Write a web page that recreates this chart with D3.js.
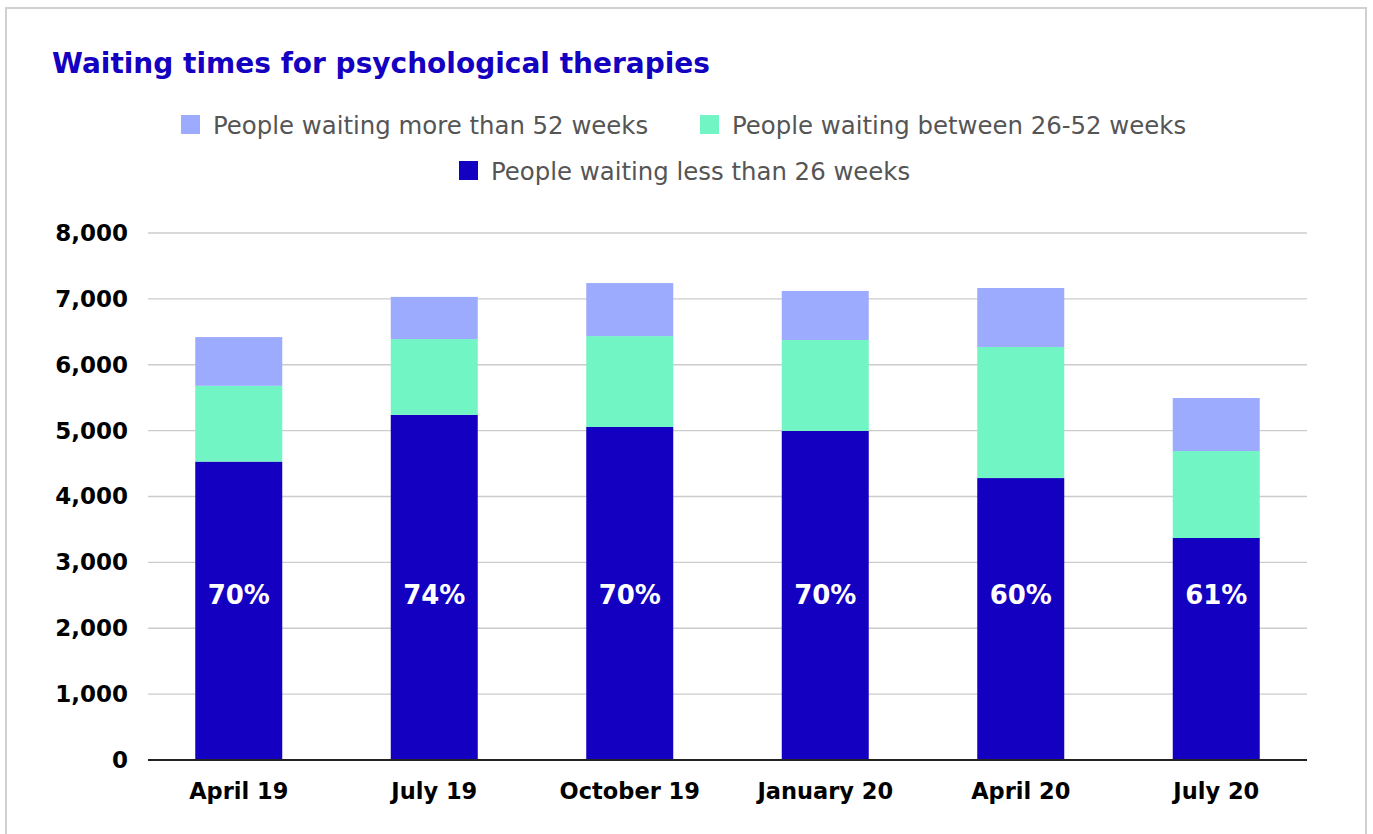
<!DOCTYPE html>
<html>
<head>
<meta charset="utf-8">
<script src="https://cdn.jsdelivr.net/npm/d3@7"></script>
<style>
  body { margin: 0; background: #fff; }
  svg { display: block; font-family: "DejaVu Sans", sans-serif; }
</style>
</head>
<body>
<div id="chart"></div>
<script>
// data
var periods = ["April 19", "July 19", "October 19", "January 20", "April 20", "July 20"];
var under26 = [4530, 5240, 5055, 4995, 4280, 3370];
var between26_52 = [1150, 1150, 1380, 1380, 1990, 1320];
var over52 = [740, 640, 805, 745, 895, 805];
var shareLabels = ["70%", "74%", "70%", "70%", "60%", "61%"];
var yTicks = [0, 1000, 2000, 3000, 4000, 5000, 6000, 7000, 8000];

var seriesNames = ["People waiting less than 26 weeks", "People waiting between 26-52 weeks", "People waiting more than 52 weeks"];
var seriesColors = ["#1400c0", "#72f5c5", "#9dabff"];

var W = 1373, H = 834;
var font = "'DejaVu Sans', sans-serif";
var svg = d3.select("#chart").append("svg")
    .attr("width", W)
    .attr("height", H);

// outer frame
svg.append("rect")
    .attr("x", 6).attr("y", 8)
    .attr("width", 1360).attr("height", 840)
    .attr("fill", "none")
    .attr("stroke", "#d0d0d0")
    .attr("stroke-width", 2);

// title
svg.append("text")
    .attr("x", 52).attr("y", 73)
    .attr("fill", "#1400c0")
    .attr("font-size", 28)
    .attr("font-weight", 700)
    .text("Waiting times for psychological therapies");

// legend
var legendItems = [
  {name: seriesNames[2], color: seriesColors[2], x: 181, y: 125},
  {name: seriesNames[1], color: seriesColors[1], x: 700, y: 125},
  {name: seriesNames[0], color: seriesColors[0], x: 459, y: 171}
];
var lg = svg.append("g").selectAll("g")
  .data(legendItems).enter().append("g")
  .attr("transform", function(d) { return "translate(" + d.x + "," + d.y + ")"; });
lg.append("rect")
  .attr("x", 0).attr("y", -10)
  .attr("width", 19).attr("height", 19)
  .attr("fill", function(d) { return d.color; });
lg.append("text")
  .attr("x", 32).attr("y", 0)
  .attr("dy", "0.35em")
  .attr("fill", "#555")
  .attr("font-size", 24.4)
  .text(function(d) { return d.name; });

// scales
var x = d3.scaleBand()
  .domain(periods)
  .range([141, 1314])
  .paddingInner(0.555)
  .paddingOuter(0.2775);

var y = d3.scaleLinear()
  .domain([0, 8000])
  .range([760, 233]);

var gridLeft = 148, gridRight = 1307;

// gridlines
svg.append("g").selectAll("line")
  .data(yTicks.filter(function(t) { return t > 0; }))
  .enter().append("line")
  .attr("x1", gridLeft).attr("x2", gridRight)
  .attr("y1", function(d) { return y(d); })
  .attr("y2", function(d) { return y(d); })
  .attr("stroke", "#cccccc")
  .attr("stroke-width", 1.3);

// y axis labels
var yAxis = svg.append("g")
  .attr("transform", "translate(" + 128 + ",0)")
  .call(d3.axisLeft(y).tickValues(yTicks).tickSize(0).tickPadding(0).tickFormat(d3.format(",")));
yAxis.select(".domain").remove();
yAxis.selectAll("text")
  .attr("font-family", font)
  .attr("font-size", 23)
  .attr("font-weight", 700)
  .attr("fill", "#000");

// stacked bars
var rows = periods.map(function(p, i) {
  return {period: p, under: under26[i], mid: between26_52[i], over: over52[i]};
});
var stack = d3.stack().keys(["under", "mid", "over"]);
var layers = stack(rows);

svg.append("g").selectAll("g")
  .data(layers).enter().append("g")
  .attr("fill", function(d, i) { return seriesColors[i]; })
  .selectAll("rect")
  .data(function(d) { return d; })
  .enter().append("rect")
  .attr("x", function(d) { return x(d.data.period); })
  .attr("y", function(d) { return y(d[1]); })
  .attr("width", x.bandwidth())
  .attr("height", function(d) { return y(d[0]) - y(d[1]); });

// share labels inside the dark bars
svg.append("g").selectAll("text")
  .data(periods).enter().append("text")
  .attr("x", function(d) { return x(d) + x.bandwidth() / 2; })
  .attr("y", y(2500))
  .attr("dy", "0.35em")
  .attr("text-anchor", "middle")
  .attr("fill", "#fff")
  .attr("font-size", 26)
  .attr("font-weight", 700)
  .text(function(d, i) { return shareLabels[i]; });

// x axis
var xAxis = svg.append("g")
  .attr("transform", "translate(0,760)")
  .call(d3.axisBottom(x).tickSize(0).tickPadding(23));
xAxis.select(".domain").remove();
svg.append("line")
  .attr("x1", gridLeft).attr("x2", gridRight)
  .attr("y1", 760).attr("y2", 760)
  .attr("stroke", "#222")
  .attr("stroke-width", 2);
xAxis.selectAll("text")
  .attr("font-family", font)
  .attr("font-size", 22.5)
  .attr("font-weight", 700)
  .attr("fill", "#000");
</script>
</body>
</html>
